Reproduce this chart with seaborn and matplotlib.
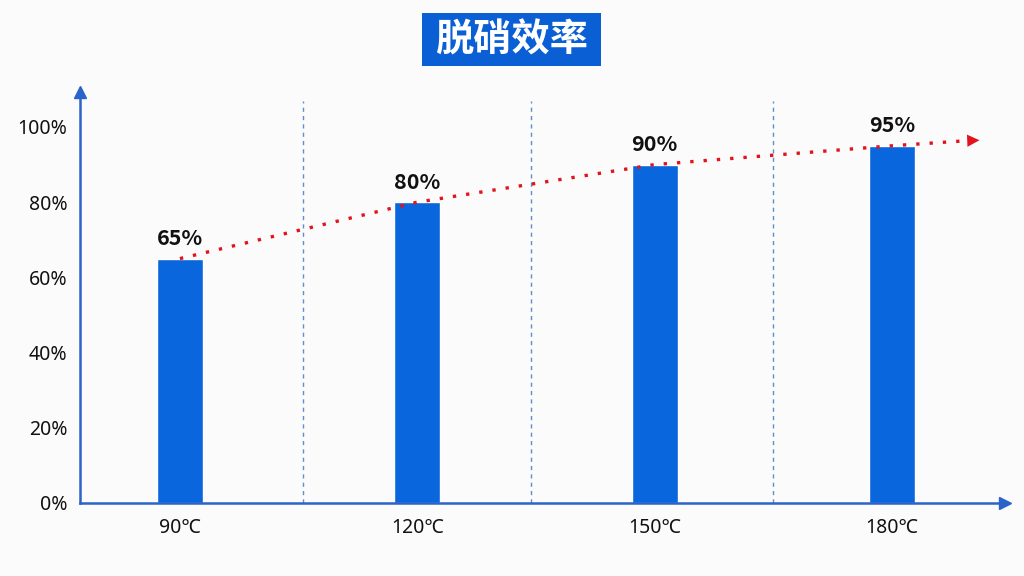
import matplotlib
matplotlib.use("Agg")
import matplotlib.pyplot as plt
import matplotlib.patches as mpatches
import seaborn as sns
import pandas as pd

categories = ["90℃", "120℃", "150℃", "180℃"]
efficiency = [65, 80, 90, 95]
value_labels = ["65%", "80%", "90%", "95%"]
trend_end = 96.5
yticks = [0, 20, 40, 60, 80, 100]
ytick_labels = ["0%", "20%", "40%", "60%", "80%", "100%"]
title = "脱硝效率"

sns.set_theme(style="white")
plt.rcParams["font.family"] = ["Noto Sans", "Noto Sans CJK SC", "DejaVu Sans"]

BLUE = "#0a66dd"
AXIS = "#2a63c9"
BG = "#fbfbfb"

fig = plt.figure(figsize=(10.24, 5.76), dpi=100, facecolor=BG)
ax = fig.add_axes([80 / 1024, 73 / 576, 925 / 1024, 411 / 576])
ax.set_facecolor(BG)

df = pd.DataFrame({"cat": categories, "val": efficiency})
sns.barplot(data=df, x="cat", y="val", color=BLUE, width=0.194, saturation=1, ax=ax)

ax.set_xlim(-0.421, 3.476)
ax.set_ylim(0, 109.3)

# dashed separators
for xs in [0.52, 1.48, 2.5]:
    ax.axvline(xs, ymin=0, ymax=107 / 109.3, color="#5b8fd0", lw=1, ls=(0, (3, 3)))

# trend line
tx = list(range(len(categories))) + [3.35]
ty = efficiency + [trend_end]
tdf = pd.DataFrame({"x": tx, "y": ty})
sns.lineplot(data=tdf, x="x", y="y", color="#e3121b", lw=2.4, ls=(0, (1, 3)),
             ax=ax, sort=True)
ax.annotate("", xy=(3.38, trend_end), xytext=(3.32, trend_end - 0.15),
            arrowprops=dict(arrowstyle="-|>", color="#e3121b", lw=0,
                            mutation_scale=22))

# value labels
for i, (v, lab) in enumerate(zip(efficiency, value_labels)):
    ax.text(i, v + 2.5, lab, ha="center", va="bottom", fontsize=15.5,
            fontweight="bold", color="#111111", family=["Noto Sans CJK SC"])

# axes styling
for s in ["top", "right"]:
    ax.spines[s].set_visible(False)
for s in ["left", "bottom"]:
    ax.spines[s].set_color(AXIS)
    ax.spines[s].set_linewidth(1.8)
ax.set_yticks(yticks)
ax.set_yticklabels(ytick_labels, fontsize=14, color="#111111")
ax.tick_params(axis="y", direction="in", length=8, width=1.5, color=AXIS, pad=9)
ax.tick_params(axis="x", length=0, pad=11, labelsize=14, labelcolor="#111111")
ax.set_xlabel("")
ax.set_ylabel("")

# axis arrows
ax.plot(1, 0, ">", transform=ax.transAxes, color=AXIS, markersize=9, clip_on=False)
ax.plot(0, 1, "^", transform=ax.transAxes, color=AXIS, markersize=9, clip_on=False)

# title box
fig.patches.append(mpatches.Rectangle((422 / 1024, 1 - 66 / 576), 179 / 1024, 53 / 576,
                                      transform=fig.transFigure, facecolor="#0a5fd4",
                                      edgecolor="none", zorder=1))
fig.text(511.5 / 1024, 1 - 40 / 576, title, ha="center", va="center", fontsize=27.5,
         fontweight="bold", color="white", family=["Noto Sans CJK SC"], zorder=2)

fig.savefig("out.png", dpi=100, facecolor=BG)
